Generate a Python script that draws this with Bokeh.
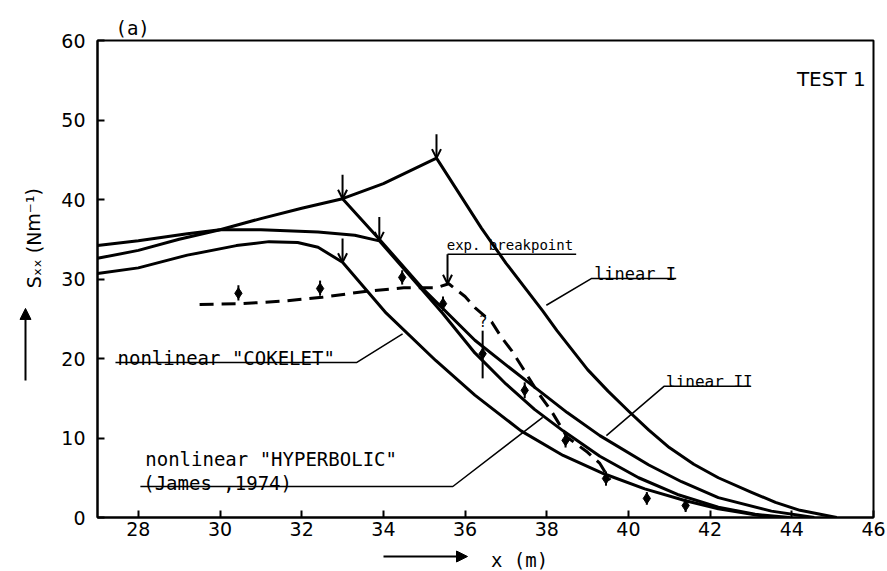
from bokeh.plotting import figure
from bokeh.models import Range1d, FixedTicker, Label, Arrow, OpenHead, NormalHead, ColumnDataSource
from bokeh.layouts import row, column
from bokeh.embed import file_html
from bokeh.resources import INLINE

# ---------------- data ----------------
x_ticks = [28, 30, 32, 34, 36, 38, 40, 42, 44, 46]
y_ticks = [0, 10, 20, 30, 40, 50, 60]

# linear theory: shoaling + decay after breakpoint I
lin1_x = [27, 28, 29, 30, 31, 32, 33, 34, 35.3, 36.4, 37.0, 37.9, 38.25, 39.0, 39.5, 40.0, 40.5,
          41.0, 41.6, 42.2, 43.0, 43.6, 44.2, 44.85, 45.1]
lin1_y = [32.6, 33.6, 35.0, 36.2, 37.6, 38.9, 40.1, 42.0, 45.2, 36.4, 32.0, 26.0, 23.5, 18.6, 15.9,
          13.4, 11.0, 8.8, 6.7, 5.0, 3.2, 1.9, 0.9, 0.25, 0.0]

# linear II: decay after breakpoint at x = 33
lin2_x = [33.0, 33.9, 35.0, 36.24, 37.0, 37.7, 38.5, 39.3, 40.5, 41.3, 42.2, 43.5, 44.55]
lin2_y = [40.1, 35.0, 28.6, 22.3, 19.2, 16.4, 13.2, 10.3, 6.6, 4.5, 2.5, 0.8, 0.0]

# nonlinear "HYPERBOLIC"
hyp_x = [27, 28, 29.2, 30, 31, 32.4, 33.3, 33.9, 34.5, 35.45, 36.24, 37.0, 37.7, 38.4, 39.3,
         40.25, 41.2, 42.2, 43.1, 43.95]
hyp_y = [34.2, 34.8, 35.7, 36.2, 36.2, 35.9, 35.5, 34.8, 31.3, 25.7, 20.7, 16.8, 13.6, 10.9, 7.7,
         5.0, 2.9, 1.3, 0.4, 0.0]

# nonlinear "COKELET"
cok_x = [27, 28, 29.2, 30.4, 31.2, 31.9, 32.4, 33.0, 34.07, 35.28, 36.24, 37.37, 38.4, 39.4,
         40.4, 41.4, 42.2, 43.5]
cok_y = [30.7, 31.4, 33.0, 34.2, 34.7, 34.6, 34.0, 32.1, 25.7, 19.75, 15.4, 10.9, 7.8, 5.5,
         3.6, 2.1, 1.1, 0.0]

# computed breakpoints (arrows)
brk_x = [35.3, 33.0, 33.9, 33.0]
brk_y = [45.2, 40.1, 34.8, 32.1]

# measurements
exp_x = [30.45, 32.45, 34.46, 35.46, 36.43, 37.46, 38.46, 39.45, 40.45, 41.4]
exp_y = [28.2, 28.8, 30.2, 26.9, 20.6, 16.0, 9.7, 4.9, 2.4, 1.5]
exp_lo = [27.3, 27.9, 29.3, 26.0, 17.5, 15.0, 8.8, 4.0, 1.6, 0.7]
exp_hi = [29.2, 29.8, 31.1, 27.8, 23.5, 17.0, 10.6, 5.8, 3.2, 2.4]

# measured trend (dashed)
dash_x = [29.5, 30.5, 31.5, 32.5, 33.5, 34.5, 35.3, 35.6, 36.0, 36.24, 36.65, 36.9, 37.14, 37.4,
          37.64, 37.8, 38.1, 38.5, 39.0, 39.3, 39.55]
dash_y = [26.8, 26.9, 27.2, 27.7, 28.4, 28.9, 28.9, 29.4, 27.8, 26.4, 24.6, 22.6, 21.0, 18.9,
          16.9, 15.6, 13.5, 10.1, 8.2, 6.8, 4.7]

MONO = "DejaVu Sans Mono"

def add_txt(fig, x, y, t, size, font=MONO, align="left", angle=0, place=None):
    lab = Label(x=x, y=y, text=t, text_font=font, text_font_size=size,
                text_color="black", text_align=align, text_baseline="alphabetic",
                angle=angle)
    if place is None:
        fig.add_layout(lab)
    else:
        fig.add_layout(lab, place)

# ---------------- main figure ----------------
p = figure(width=837, height=543, output_backend="svg", toolbar_location=None,
           x_range=Range1d(27, 46), y_range=Range1d(0, 60),
           min_border_left=47, min_border_right=14, min_border_top=40, min_border_bottom=26)
p.grid.visible = False
p.outline_line_color = "black"
p.outline_line_width = 2
p.background_fill_color = "white"
p.border_fill_color = "white"

for ax in (p.xaxis[0], p.yaxis[0]):
    ax.axis_line_width = 2
    ax.axis_line_color = "black"
    ax.major_tick_in = 7
    ax.major_tick_out = 0
    ax.major_tick_line_width = 2
    ax.major_tick_line_color = "black"
    ax.minor_tick_line_color = None
    ax.major_label_text_font = "DejaVu Sans"
    ax.major_label_text_font_size = "19px"
    ax.major_label_text_color = "black"
p.xaxis.ticker = FixedTicker(ticks=x_ticks)
p.yaxis.ticker = FixedTicker(ticks=y_ticks)
p.xaxis.major_label_standoff = 4
p.yaxis.major_label_standoff = 12

LW = 3
p.line(lin1_x, lin1_y, line_width=LW, color="black", line_join="round")
p.line(lin2_x, lin2_y, line_width=LW, color="black", line_join="round")
p.line(hyp_x, hyp_y, line_width=LW, color="black", line_join="round")
p.line(cok_x, cok_y, line_width=LW, color="black", line_join="round")
p.line(dash_x, dash_y, line_width=LW, color="black", line_dash="14 8")

p.segment(exp_x, exp_lo, exp_x, exp_hi, line_width=2, color="black")
p.scatter(exp_x, exp_y, marker="diamond", size=11, color="black")

brk_src = ColumnDataSource(dict(x=brk_x, y=brk_y, ys=[v + 3.0 for v in brk_y]))
p.add_layout(Arrow(end=OpenHead(size=9, line_width=2, line_color="black"),
                   x_start="x", y_start="ys", x_end="x", y_end="y",
                   source=brk_src, line_width=2, line_color="black"))

# labels with leaders
add_txt(p, 39.16, 30.6, "linear I", "17px")
p.line([37.99, 39.09, 41.17], [26.7, 30.06, 30.06], line_width=1.5, color="black")

add_txt(p, 40.92, 17.1, "linear II", "16px")
p.line([39.46, 40.87, 42.99], [10.3, 16.5, 16.5], line_width=1.5, color="black")

add_txt(p, 35.55, 34.3, "exp. breakpoint", "14px")
p.line([38.72, 35.57], [33.1, 33.1], line_width=1.5, color="black")
p.add_layout(Arrow(end=OpenHead(size=9, line_width=2), x_start=35.57, y_start=33.1,
                   x_end=35.57, y_end=29.4, line_width=2))

add_txt(p, 27.49, 20.1, "nonlinear \"COKELET\"", "19px")
p.line([27.44, 33.35, 34.47], [19.5, 19.5, 23.1], line_width=1.5, color="black")

add_txt(p, 28.17, 7.3, "nonlinear \"HYPERBOLIC\"", "19px")
add_txt(p, 28.12, 4.4, "(James ,1974)", "19px")
p.line([28.05, 35.7, 37.9], [3.9, 3.9, 12.6], line_width=1.5, color="black")

add_txt(p, 36.33, 24.6, "?", "15px")
add_txt(p, 45.81, 55.2, "TEST 1", "20px", font="DejaVu Sans", align="right")
add_txt(p, 27.44, 61.6, "(a)", "19px", place="above")

# ---------------- side strips for the axis titles and their arrows ----------------
def strip(w, h):
    f = figure(width=w, height=h, output_backend="svg", toolbar_location=None,
               x_range=Range1d(0, w), y_range=Range1d(0, h),
               x_axis_type=None, y_axis_type=None, min_border=0)
    f.outline_line_color = None
    f.background_fill_color = "white"
    f.border_fill_color = "white"
    return f

left = strip(50, 543)
add_txt(left, 33, 318, "Sₓₓ (Nm⁻¹)", "19px", font="DejaVu Sans", align="center", angle=1.5708)
left.add_layout(Arrow(end=NormalHead(size=11, fill_color="black", line_color="black"),
                      x_start=25, y_start=156, x_end=25, y_end=238, line_width=2))

bottom = strip(887, 28)
add_txt(bottom, 519, 12, "x (m)", "19px", align="center")
bottom.add_layout(Arrow(end=NormalHead(size=11, fill_color="black", line_color="black"),
                        x_start=383, y_start=15, x_end=467, y_end=15, line_width=2))

layout = column(row(left, p, spacing=0), bottom, spacing=0)

open("out.html", "w").write(file_html(layout, INLINE))
